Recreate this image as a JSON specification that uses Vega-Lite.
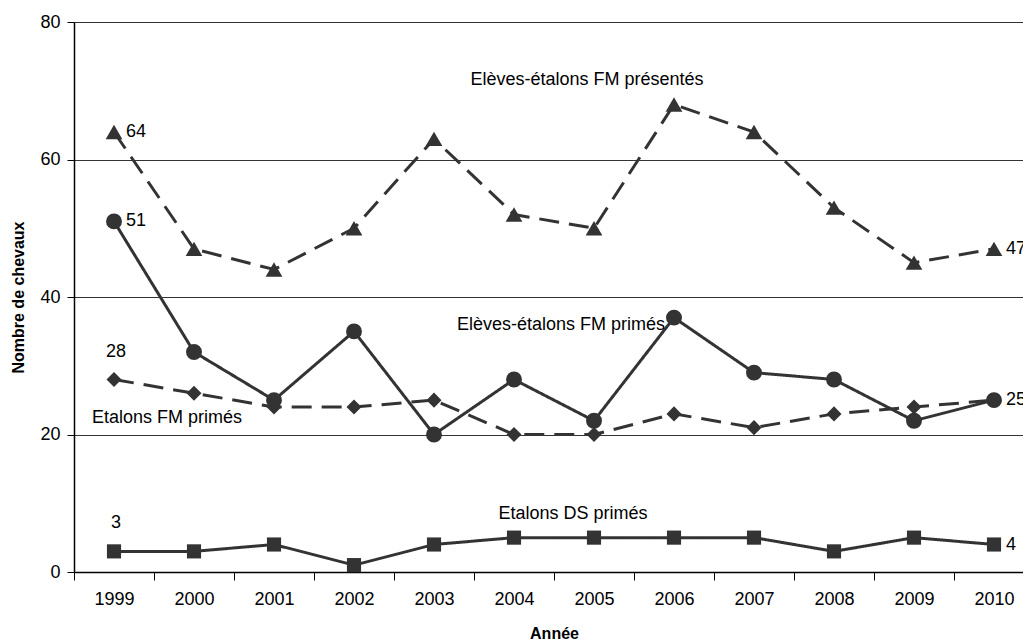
{
  "$schema": "https://vega.github.io/schema/vega-lite/v6.json",
  "width": 960,
  "height": 550,
  "padding": {"left": 10, "top": 13, "right": 0, "bottom": 0},
  "config": {
    "font": "Liberation Sans",
    "view": {"stroke": null},
    "axis": {
      "labelFont": "Liberation Sans",
      "labelFontSize": 18,
      "labelColor": "#000000",
      "titleFont": "Liberation Sans",
      "titleFontSize": 16,
      "titleFontWeight": "bold",
      "titleColor": "#000000",
      "domainColor": "#000000",
      "domainWidth": 1.5,
      "tickColor": "#000000",
      "tickWidth": 1,
      "gridColor": "#333333",
      "gridWidth": 1,
      "gridOpacity": 1
    }
  },
  "datasets": {
    "series": [
      {"year": 1999, "series": "Elèves-étalons FM présentés", "value": 64},
      {"year": 2000, "series": "Elèves-étalons FM présentés", "value": 47},
      {"year": 2001, "series": "Elèves-étalons FM présentés", "value": 44},
      {"year": 2002, "series": "Elèves-étalons FM présentés", "value": 50},
      {"year": 2003, "series": "Elèves-étalons FM présentés", "value": 63},
      {"year": 2004, "series": "Elèves-étalons FM présentés", "value": 52},
      {"year": 2005, "series": "Elèves-étalons FM présentés", "value": 50},
      {"year": 2006, "series": "Elèves-étalons FM présentés", "value": 68},
      {"year": 2007, "series": "Elèves-étalons FM présentés", "value": 64},
      {"year": 2008, "series": "Elèves-étalons FM présentés", "value": 53},
      {"year": 2009, "series": "Elèves-étalons FM présentés", "value": 45},
      {"year": 2010, "series": "Elèves-étalons FM présentés", "value": 47},
      {"year": 1999, "series": "Elèves-étalons FM primés", "value": 51},
      {"year": 2000, "series": "Elèves-étalons FM primés", "value": 32},
      {"year": 2001, "series": "Elèves-étalons FM primés", "value": 25},
      {"year": 2002, "series": "Elèves-étalons FM primés", "value": 35},
      {"year": 2003, "series": "Elèves-étalons FM primés", "value": 20},
      {"year": 2004, "series": "Elèves-étalons FM primés", "value": 28},
      {"year": 2005, "series": "Elèves-étalons FM primés", "value": 22},
      {"year": 2006, "series": "Elèves-étalons FM primés", "value": 37},
      {"year": 2007, "series": "Elèves-étalons FM primés", "value": 29},
      {"year": 2008, "series": "Elèves-étalons FM primés", "value": 28},
      {"year": 2009, "series": "Elèves-étalons FM primés", "value": 22},
      {"year": 2010, "series": "Elèves-étalons FM primés", "value": 25},
      {"year": 1999, "series": "Etalons FM primés", "value": 28},
      {"year": 2000, "series": "Etalons FM primés", "value": 26},
      {"year": 2001, "series": "Etalons FM primés", "value": 24},
      {"year": 2002, "series": "Etalons FM primés", "value": 24},
      {"year": 2003, "series": "Etalons FM primés", "value": 25},
      {"year": 2004, "series": "Etalons FM primés", "value": 20},
      {"year": 2005, "series": "Etalons FM primés", "value": 20},
      {"year": 2006, "series": "Etalons FM primés", "value": 23},
      {"year": 2007, "series": "Etalons FM primés", "value": 21},
      {"year": 2008, "series": "Etalons FM primés", "value": 23},
      {"year": 2009, "series": "Etalons FM primés", "value": 24},
      {"year": 2010, "series": "Etalons FM primés", "value": 25},
      {"year": 1999, "series": "Etalons DS primés", "value": 3},
      {"year": 2000, "series": "Etalons DS primés", "value": 3},
      {"year": 2001, "series": "Etalons DS primés", "value": 4},
      {"year": 2002, "series": "Etalons DS primés", "value": 1},
      {"year": 2003, "series": "Etalons DS primés", "value": 4},
      {"year": 2004, "series": "Etalons DS primés", "value": 5},
      {"year": 2005, "series": "Etalons DS primés", "value": 5},
      {"year": 2006, "series": "Etalons DS primés", "value": 5},
      {"year": 2007, "series": "Etalons DS primés", "value": 5},
      {"year": 2008, "series": "Etalons DS primés", "value": 3},
      {"year": 2009, "series": "Etalons DS primés", "value": 5},
      {"year": 2010, "series": "Etalons DS primés", "value": 4}
    ]
  },
  "encoding": {
    "x": {
      "field": "year",
      "type": "ordinal",
      "scale": {"type": "band", "paddingInner": 0, "paddingOuter": 0},
      "axis": {
        "title": "Année",
        "labelAngle": 0,
        "tickBand": "extent",
        "tickSize": 8,
        "labelPadding": 10,
        "titlePadding": 17,
        "grid": false
      }
    },
    "y": {
      "field": "value",
      "type": "quantitative",
      "scale": {"domain": [0, 80], "nice": false},
      "axis": {
        "title": "Nombre de chevaux",
        "values": [0, 20, 40, 60, 80],
        "grid": true,
        "tickSize": 7,
        "labelPadding": 7,
        "titlePadding": 13
      }
    }
  },
  "layer": [
    {
      "data": {"name": "series"},
      "mark": {"type": "line", "color": "#333333", "strokeWidth": 3},
      "encoding": {
        "strokeDash": {
          "field": "series",
          "type": "nominal",
          "scale": {
            "domain": ["Elèves-étalons FM présentés", "Elèves-étalons FM primés", "Etalons FM primés", "Etalons DS primés"],
            "range": [[20, 10], [1, 0], [20, 10], [1, 0]]
          },
          "legend": null
        }
      }
    },
    {
      "data": {"name": "series"},
      "mark": {"type": "point", "filled": true, "color": "#333333", "opacity": 1},
      "encoding": {
        "shape": {
          "field": "series",
          "type": "nominal",
          "scale": {
            "domain": ["Elèves-étalons FM présentés", "Elèves-étalons FM primés", "Etalons FM primés", "Etalons DS primés"],
            "range": ["triangle-up", "circle", "diamond", "square"]
          },
          "legend": null
        },
        "size": {
          "field": "series",
          "type": "nominal",
          "scale": {
            "domain": ["Elèves-étalons FM présentés", "Elèves-étalons FM primés", "Etalons FM primés", "Etalons DS primés"],
            "range": [280, 200, 230, 200]
          },
          "legend": null
        }
      }
    },
    {
      "data": {"values": [
        {"year": 1999, "value": 64, "label": "64"},
        {"year": 1999, "value": 51, "label": "51"},
        {"year": 2010, "value": 47, "label": "47"},
        {"year": 2010, "value": 25, "label": "25"},
        {"year": 2010, "value": 4, "label": "4"}
      ]},
      "mark": {"type": "text", "align": "left", "baseline": "middle", "dx": 12, "fontSize": 18, "color": "#000000"},
      "encoding": {"text": {"field": "label"}}
    },
    {
      "data": {"values": [
        {"year": 1999, "value": 28, "label": "28"},
        {"year": 1999, "value": 3, "label": "3"}
      ]},
      "mark": {"type": "text", "align": "center", "baseline": "middle", "dx": 2, "dy": -28, "fontSize": 18, "color": "#000000"},
      "encoding": {"text": {"field": "label"}}
    },
    {
      "data": {"values": [{"year": 2005, "value": 71.6, "label": "Elèves-étalons FM présentés"}]},
      "mark": {"type": "text", "align": "center", "baseline": "middle", "dx": -7, "fontSize": 18, "color": "#000000"},
      "encoding": {"text": {"field": "label"}}
    },
    {
      "data": {"values": [{"year": 2005, "value": 35.9, "label": "Elèves-étalons FM primés"}]},
      "mark": {"type": "text", "align": "center", "baseline": "middle", "dx": -33, "fontSize": 18, "color": "#000000"},
      "encoding": {"text": {"field": "label"}}
    },
    {
      "data": {"values": [{"year": 2005, "value": 8.4, "label": "Etalons DS primés"}]},
      "mark": {"type": "text", "align": "center", "baseline": "middle", "dx": -21, "fontSize": 18, "color": "#000000"},
      "encoding": {"text": {"field": "label"}}
    },
    {
      "data": {"values": [{"year": 1999, "value": 22.4, "label": "Etalons FM primés"}]},
      "mark": {"type": "text", "align": "center", "baseline": "middle", "dx": 53, "fontSize": 18, "color": "#000000"},
      "encoding": {"text": {"field": "label"}}
    }
  ]
}
